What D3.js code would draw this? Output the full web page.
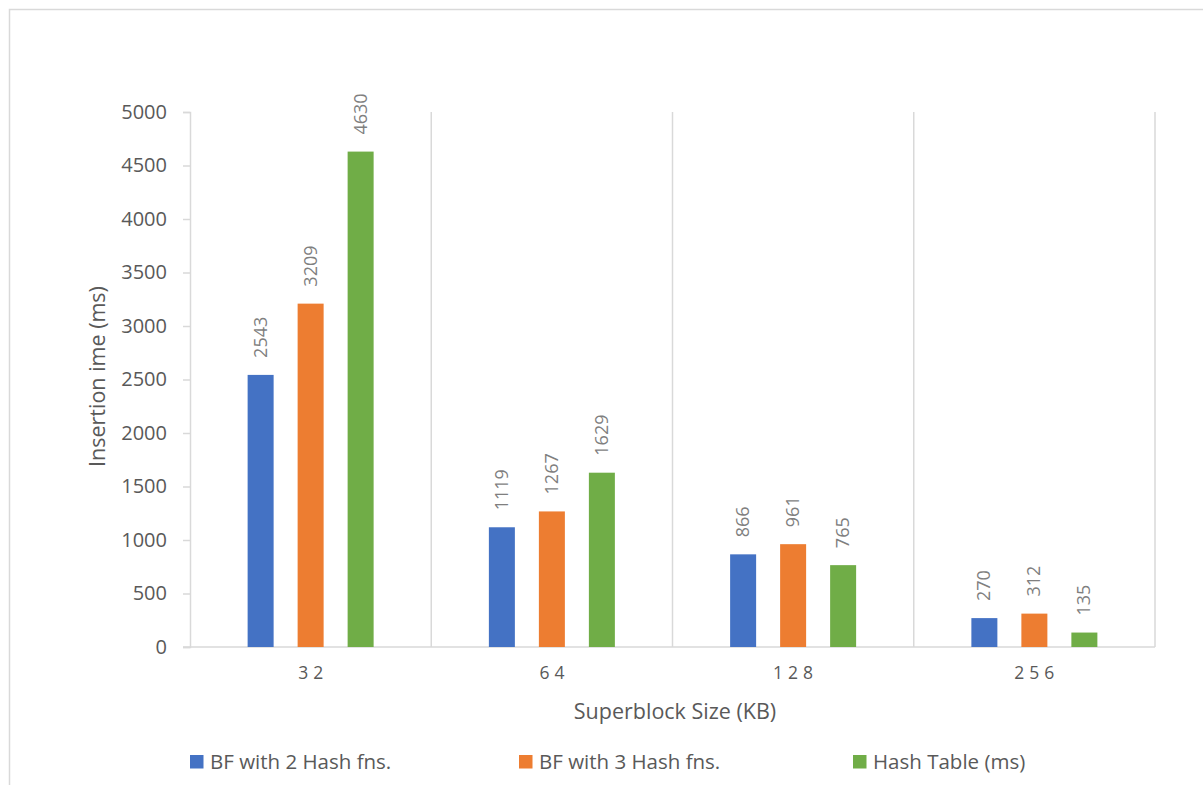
<!DOCTYPE html>
<html>
<head>
<meta charset="utf-8">
<script src="https://cdn.jsdelivr.net/npm/d3@7"></script>
<style>
  html, body { margin: 0; padding: 0; background: #fff; }
  svg { display: block; font-family: "Open Sans", "Noto Sans", sans-serif; }
</style>
</head>
<body>
<svg id="chart" width="1203" height="785"></svg>
<script>
const categories = ["32", "64", "128", "256"];
const seriesNames = ["BF with 2 Hash fns.", "BF with 3 Hash fns.", "Hash Table (ms)"];
const bf2 = [2543, 1119, 866, 270];
const bf3 = [3209, 1267, 961, 312];
const hashTable = [4630, 1629, 765, 135];
const yTicks = [0, 500, 1000, 1500, 2000, 2500, 3000, 3500, 4000, 4500, 5000];
const colors = ["#4472C4", "#ED7D31", "#70AD47"];
const xTitle = "Superblock Size (KB)";
const yTitle = "Insertion ime (ms)";

const seriesValues = [bf2, bf3, hashTable];
const svg = d3.select("#chart");

// outer frame
svg.append("rect").attr("x", 9.5).attr("y", 9.5).attr("width", 1210).attr("height", 800)
  .attr("fill", "none").attr("stroke", "#d9d9d9").attr("stroke-width", 1.5);

const pLeft = 190, pRight = 1155, pTop = 112, pBottom = 647;
const x0 = d3.scaleBand().domain(categories).range([pLeft, pRight]).paddingInner(0).paddingOuter(0);
const bw = x0.bandwidth();
const x1 = d3.scaleBand().domain(seriesNames).range([bw / 2 - 63, bw / 2 + 63]).paddingInner(0.48).paddingOuter(0);
const y = d3.scaleLinear().domain([0, 5000]).range([pBottom, pTop]);

// vertical gridlines between categories
const gridX = categories.map(c => x0(c)).concat([x0(categories[categories.length - 1]) + bw]);
svg.append("g").selectAll("line").data(gridX.slice(1)).join("line")
  .attr("x1", d => d).attr("x2", d => d).attr("y1", pTop).attr("y2", pBottom)
  .attr("stroke", "#d9d9d9").attr("stroke-width", 1.5);

// y axis
const yAxis = svg.append("g").attr("transform", `translate(${pLeft},0)`)
  .call(d3.axisLeft(y).tickValues(yTicks).tickSize(7).tickPadding(16).tickFormat(d3.format("d")));
yAxis.select(".domain").attr("stroke", "#d9d9d9").attr("stroke-width", 1.5);
yAxis.selectAll(".tick line").attr("stroke", "#d9d9d9").attr("stroke-width", 1.5);
yAxis.selectAll(".tick text").attr("fill", "#595959").style("font-size", "20px")
  .style("font-family", "'Open Sans', sans-serif");

// x axis
const xAxis = svg.append("g").attr("transform", `translate(0,${pBottom})`)
  .call(d3.axisBottom(x0).tickSize(0).tickPadding(20));
xAxis.select(".domain").remove();
xAxis.selectAll(".tick text").attr("fill", "#595959").style("font-size", "17.5px")
  .style("letter-spacing", "5px").attr("dx", 2.5).style("font-family", "'Open Sans', sans-serif");
svg.append("line").attr("x1", pLeft - 7).attr("x2", pRight).attr("y1", pBottom).attr("y2", pBottom)
  .attr("stroke", "#d9d9d9").attr("stroke-width", 1.5);

// bars
const groups = svg.append("g").selectAll("g").data(categories).join("g")
  .attr("transform", d => `translate(${x0(d)},0)`);
groups.selectAll("rect").data((c, ci) => seriesNames.map((s, si) => ({ s, si, v: seriesValues[si][ci] })))
  .join("rect")
  .attr("x", d => x1(d.s)).attr("width", x1.bandwidth())
  .attr("y", d => y(d.v)).attr("height", d => pBottom - y(d.v))
  .attr("fill", d => colors[d.si]);

// data labels
groups.selectAll("text").data((c, ci) => seriesNames.map((s, si) => ({ s, si, v: seriesValues[si][ci] })))
  .join("text")
  .attr("transform", d => `translate(${x1(d.s) + x1.bandwidth() / 2 + 6},${y(d.v) - 17}) rotate(-90)`)
  .attr("text-anchor", "start")
  .attr("fill", "#7f7f7f").style("font-size", "18px")
  .text(d => d.v);

// axis titles
svg.append("text").attr("x", 675).attr("y", 719).attr("text-anchor", "middle")
  .attr("fill", "#595959").style("font-size", "21.5px").text(xTitle);
svg.append("text").attr("transform", `translate(105,${(pTop + pBottom) / 2 - 3}) rotate(-90)`)
  .attr("text-anchor", "middle").attr("fill", "#595959").style("font-size", "21.5px").text(yTitle);

// legend
const legendX = [190, 519, 853];
const legend = svg.append("g").selectAll("g").data(seriesNames).join("g")
  .attr("transform", (d, i) => `translate(${legendX[i]},755)`);
legend.append("rect").attr("width", 13.5).attr("height", 13.5).attr("fill", (d, i) => colors[i]);
legend.append("text").attr("x", 20).attr("y", 14).attr("fill", "#595959").style("font-size", "20.5px").text(d => d);
</script>
</body>
</html>
